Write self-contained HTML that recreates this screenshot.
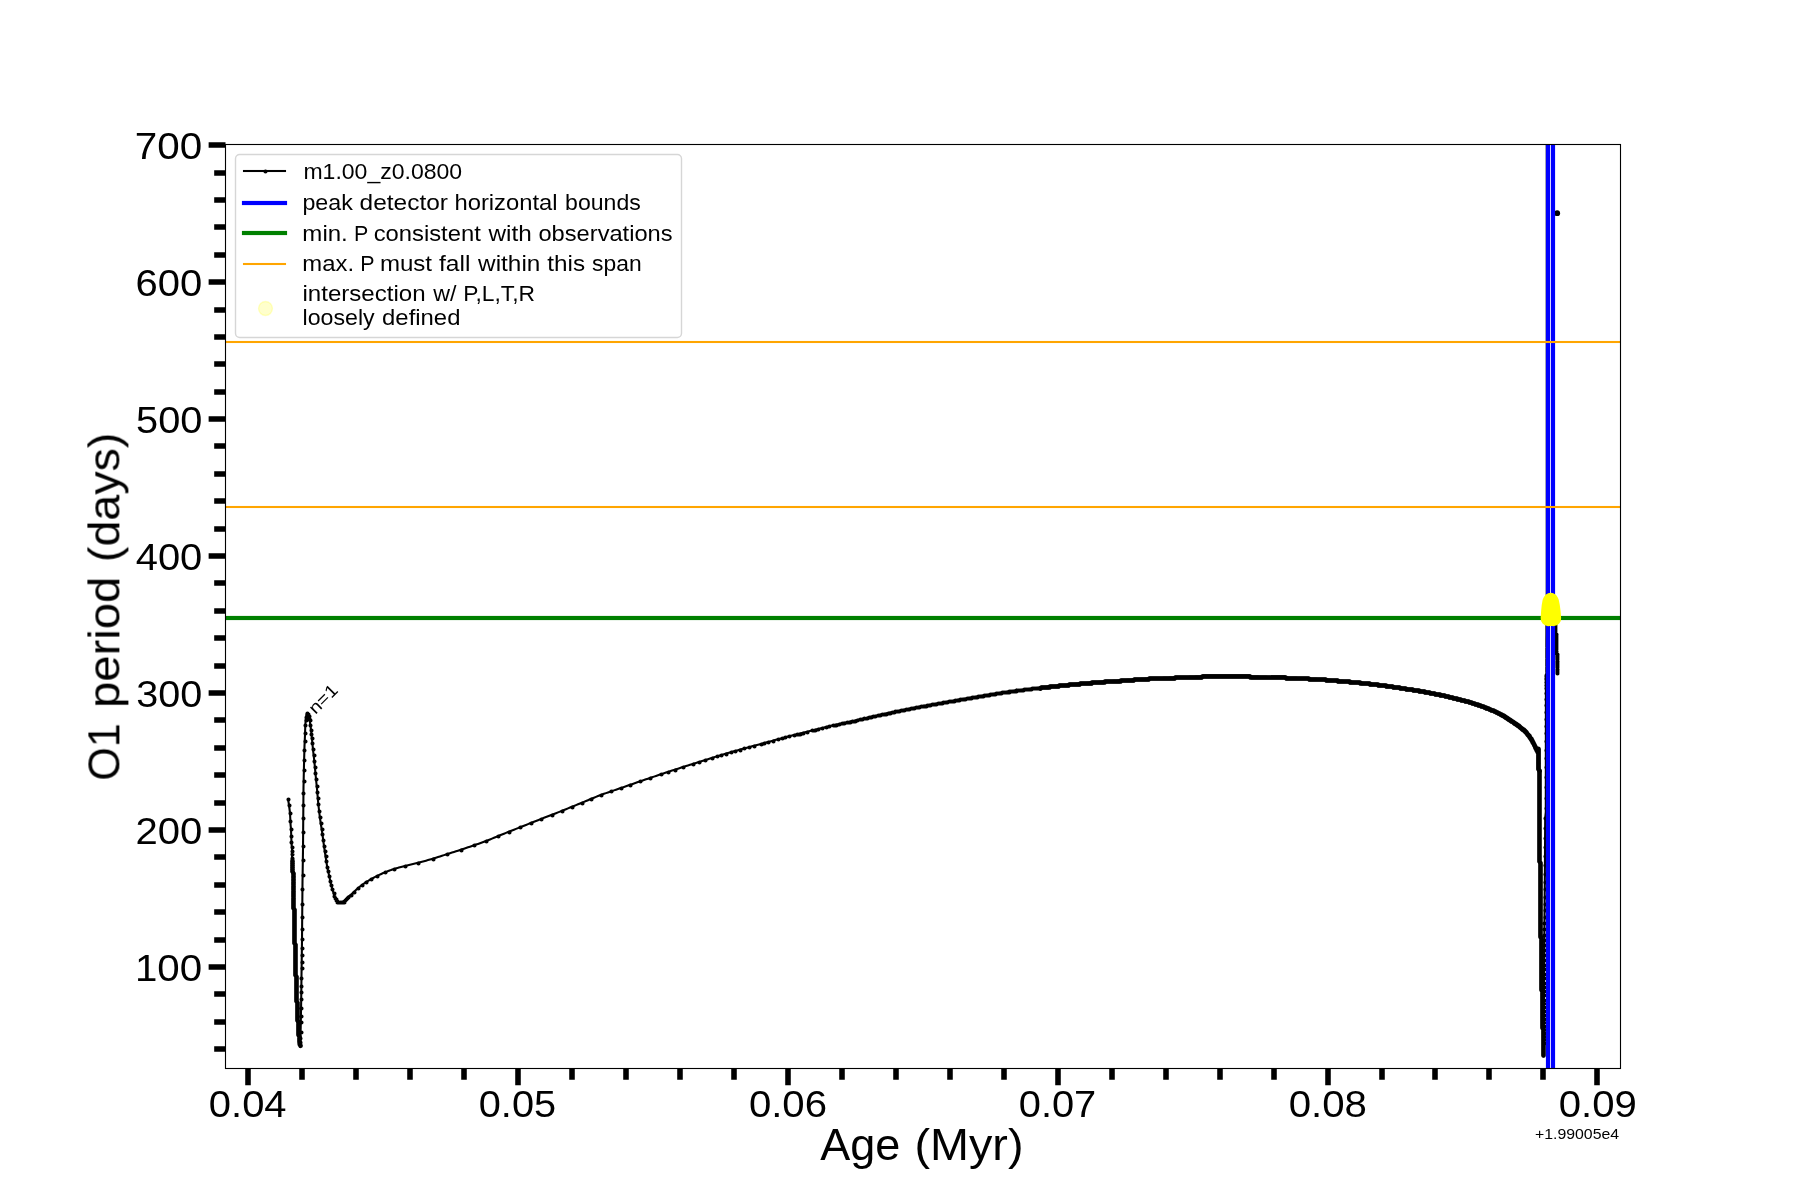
<!DOCTYPE html>
<html lang="en"><head><meta charset="utf-8"><title>O1 period vs age</title>
<style>html,body{margin:0;padding:0;background:#fff}body{width:1800px;height:1200px;overflow:hidden}svg{display:block}text{font-family:"Liberation Sans",sans-serif;fill:#000}</style></head><body>
<svg width="1800" height="1200" viewBox="0 0 1800 1200" role="img" aria-label="O1 period (days) versus age (Myr) for model m1.00_z0.0800">
<rect width="1800" height="1200" fill="#fff"/>
<defs><clipPath id="ax"><rect x="225" y="144" width="1395" height="924"/></clipPath></defs>
<!-- data area -->
<g id="plot" clip-path="url(#ax)">
<path d="M288 799 288.5 802 289 805 289.5 809 290 813 290.4 821 290.6 825 291 829 291.3 838 291.6 845 292 847.5 292 871 293 873 293 907.5 294 909.5 294 942.5 295 944.5 295 974.5 296 976.5 296 1000.5 297 1002.5 297 1020 298 1022 298 1034 299 1036 299 1041 299.8 1045.5 299.8 1045.5 300.3 1038 300.7 1028 301.2 1000 301.5 975 302 940 302.5 882 303 850 303.5 787 304 765 304.5 746 305 735 305.3 725 305.8 719 306.3 716 306.7 714 307 713.2 307 713.2 307.6 713.6 308.2 714.6 308.8 716 309.2 717.8 309.6 720 310.4 725 311.2 731.5 312.1 740.5 313.2 751.5 314.3 761 316 779 317.1 790 318.3 804 319.8 817 320.7 823 322.4 834 324 846 325.5 856 327.2 867 329.2 876 331 884.5 332.3 889 333.5 893 334.6 896 335.6 898.6 336.4 900.5 337 901.5 338.5 901.95 340.2 902.1 340.2 902.1 340.7 902.09 341.2 902.05 341.7 902 342.2 901.94 342.7 901.87 343.2 901.77 343.7 901.62 344.2 901.37 344.7 900.83 345.2 900.2 345.7 899.59 346.2 898.96 346.7 898.37 347.2 897.81 347.7 897.29 348.2 896.82 348.7 896.39 349.2 896 349.7 895.62 350.2 895.24 350.7 894.85 351.2 894.43 351.7 893.99 352.2 893.55 352.7 893.09 353.2 892.63 353.7 892.17 354.2 891.72 354.7 891.25 355.2 890.78 355.7 890.31 356.2 889.83 356.7 889.37 357.2 888.91 357.7 888.46 358.2 888.03 358.7 887.61 359.2 887.19 359.7 886.79 360.2 886.39 360.7 885.99 361.2 885.61 361.7 885.23 362.2 884.85 362.7 884.48 363.2 884.12 363.7 883.76 364.2 883.41 364.7 883.07 365.2 882.73 365.7 882.4 366.2 882.07 366.7 881.75 367.2 881.44 367.7 881.13 368.2 880.83 368.7 880.53 369.2 880.23 369.7 879.94 370.2 879.66 370.7 879.37 371.2 879.09 371.7 878.81 372.2 878.53 372.7 878.25 373.2 877.98 373.7 877.71 374.2 877.44 374.7 877.18 375.2 876.92 375.7 876.66 376.2 876.4 376.7 876.15 377.2 875.9 377.7 875.65 378.2 875.41 378.7 875.16 379.2 874.92 379.7 874.68 380.2 874.44 380.7 874.2 381.2 873.97 381.7 873.74 382.2 873.51 382.7 873.29 383.2 873.06 383.7 872.85 384.2 872.63 384.7 872.42 385.2 872.22 385.7 872.02 386.2 871.81 386.7 871.62 387.2 871.42 387.7 871.23 388.2 871.03 388.7 870.85 389.2 870.66 389.7 870.48 390.2 870.29 390.7 870.12 391.2 869.94 391.7 869.77 392.2 869.59 392.7 869.43 393.2 869.26 393.7 869.1 394.2 868.94 394.7 868.78 395.2 868.62 395.7 868.47 396.2 868.32 396.7 868.17 397.2 868.02 397.7 867.88 398.2 867.73 398.7 867.59 399.2 867.45 399.7 867.31 400 867.23 402 866.69 404 866.16 406 865.65 408 865.16 410 864.69 412 864.23 414 863.77 416 863.3 418 862.8 420 862.28 422 861.75 424 861.2 426 860.65 428 860.08 430 859.5 432 858.91 434 858.3 436 857.68 438 857.04 440 856.41 442 855.76 444 855.12 446 854.48 448 853.84 450 853.21 452 852.57 454 851.94 456 851.3 458 850.65 460 850 462 849.34 464 848.68 466 848.01 468 847.34 470 846.66 472 845.97 474 845.28 476 844.59 478 843.9 480 843.19 482 842.48 484 841.75 486 841 488 840.23 490 839.43 492 838.61 494 837.78 496 836.94 498 836.12 500 835.3 502 834.49 504 833.69 506 832.89 508 832.08 510 831.28 512 830.49 514 829.69 516 828.89 518 828.1 520 827.3 522 826.51 524 825.71 526 824.92 528 824.13 530 823.34 532 822.55 534 821.76 536 820.97 538 820.19 540 819.4 542 818.62 544 817.84 546 817.06 548 816.29 550 815.51 552 814.74 554 813.96 556 813.18 558 812.39 560 811.6 562 810.8 564 810 566 809.2 568 808.39 570 807.58 572 806.76 574 805.95 576 805.13 578 804.32 580 803.5 582 802.68 584 801.85 586 801.01 588 800.17 590 799.33 592 798.49 594 797.67 596 796.86 598 796.07 600 795.3 602 794.55 604 793.83 606 793.12 608 792.42 610 791.72 612 791.04 614 790.36 616 789.68 618 788.99 620 788.3 622 787.61 624 786.91 626 786.22 628 785.53 630 784.84 632 784.15 634 783.46 636 782.77 638 782.09 640 781.4 642 780.72 644 780.03 646 779.35 648 778.66 650 777.98 652 777.3 654 776.62 656 775.95 658 775.27 660 774.6 662 773.93 664 773.26 666 772.6 668 771.94 670 771.27 672 770.61 674 769.96 676 769.3 678 768.65 680 768 682 767.35 684 766.71 686 766.07 688 765.43 690 764.8 692 764.17 694 763.56 696 762.94 698 762.32 700 761.7 702 761.07 704 760.44 706 759.8 708 759.16 710 758.52 712 757.89 714 757.26 716 756.63 718 756.01 720 755.4 722 754.8 724 754.2 726 753.61 728 753.03 730 752.44 732 751.87 734 751.29 736 750.73 738 750.16 740 749.6 742 749.04 744 748.5 746 747.95 748 747.42 750 746.88 752 746.35 754 745.82 756 745.28 758 744.74 760 744.2 762 743.65 764 743.1 766 742.55 768 741.99 770 741.44 772 740.88 774 740.33 776 739.78 778 739.24 780 738.7 782 738.17 784 737.64 786 737.12 788 736.59 790 736.08 792 735.56 794 735.04 796 734.53 798 734.01 800 733.5 802 732.98 804 732.47 806 731.95 808 731.44 810 730.92 812 730.41 814 729.9 816 729.4 818 728.9 820 728.4 822 727.91 824 727.42 826 726.94 828 726.47 830 726 832 725.54 834 725.08 836 724.63 838 724.18 840 723.74 842 723.3 844 722.86 846 722.42 848 721.99 850 721.55 852 721.11 854 720.68 856 720.24 858 719.79 860 719.35 862 718.9 864 718.45 866 717.99 868 717.54 870 717.08 872 716.62 874 716.16 876 715.7 878 715.25 880 714.79 882 714.35 884 713.9 886 713.46 888 713.03 890 712.6 892 712.18 894 711.76 896 711.34 898 710.93 900 710.52 902 710.12 904 709.71 906 709.31 908 708.92 910 708.52 912 708.13 914 707.74 916 707.36 918 706.98 920 706.6 922 706.23 924 705.85 926 705.49 928 705.12 930 704.76 932 704.41 934 704.05 936 703.7 938 703.35 940 703 942 702.65 944 702.3 946 701.95 948 701.6 950 701.25 952 700.9 954 700.55 956 700.2 958 699.85 960 699.5 962 699.16 964 698.81 966 698.46 968 698.12 970 697.78 972 697.44 974 697.1 976 696.76 978 696.43 980 696.1 982 695.77 984 695.44 986 695.11 988 694.78 990 694.45 992 694.12 994 693.8 996 693.48 998 693.16 1000 692.85 1002 692.54 1004 692.23 1006 691.93 1008 691.64 1010 691.35 1012 691.07 1014 690.79 1016 690.52 1018 690.24 1020 689.98 1022 689.71 1024 689.45 1026 689.19 1028 688.94 1030 688.69 1032 688.45 1034 688.2 1036 687.97 1038 687.73 1040 687.5 1042 687.27 1044 687.05 1046 686.83 1048 686.61 1050 686.4 1052 686.18 1054 685.98 1056 685.77 1058 685.57 1060 685.37 1062 685.17 1064 684.97 1066 684.78 1068 684.59 1070 684.4 1072 684.21 1074 684.03 1076 683.84 1078 683.66 1080 683.48 1082 683.29 1084 683.12 1086 682.94 1088 682.77 1090 682.6 1092 682.43 1094 682.26 1096 682.1 1098 681.95 1100 681.79 1102 681.64 1104 681.5 1106 681.36 1108 681.24 1110 681.11 1112 680.99 1114 680.88 1116 680.76 1118 680.63 1120 680.5 1122 680.36 1124 680.21 1126 680.06 1128 679.91 1130 679.76 1132 679.61 1134 679.46 1136 679.32 1138 679.17 1140 679.02 1142 678.87 1144 678.74 1146 678.61 1148 678.5 1150 678.4 1152 678.31 1154 678.22 1156 678.14 1158 678.07 1160 677.99 1162 677.92 1164 677.85 1166 677.78 1168 677.71 1170 677.64 1172 677.57 1174 677.5 1176 677.42 1178 677.34 1180 677.26 1182 677.18 1184 677.09 1186 677.01 1188 676.93 1190 676.85 1192 676.77 1194 676.7 1196 676.64 1198 676.58 1200 676.53 1202 676.49 1204 676.46 1206 676.42 1208 676.39 1210 676.35 1212 676.32 1214 676.29 1216 676.27 1218 676.24 1220 676.23 1222 676.21 1224 676.2 1226 676.2 1228 676.2 1230 676.21 1232 676.23 1234 676.25 1236 676.27 1238 676.3 1240 676.33 1242 676.36 1244 676.4 1246 676.43 1248 676.47 1250 676.5 1252 676.54 1254 676.57 1256 676.62 1258 676.66 1260 676.71 1262 676.76 1264 676.82 1266 676.87 1268 676.93 1270 676.99 1272 677.06 1274 677.12 1276 677.18 1278 677.25 1280 677.32 1282 677.39 1284 677.46 1286 677.52 1288 677.6 1290 677.67 1292 677.75 1294 677.83 1296 677.91 1298 678 1300 678.09 1302 678.18 1304 678.27 1306 678.37 1308 678.47 1310 678.56 1312 678.67 1314 678.77 1316 678.88 1318 678.99 1320 679.11 1322 679.23 1324 679.36 1326 679.5 1328 679.65 1330 679.83 1332 680.01 1334 680.2 1336 680.39 1338 680.56 1340 680.73 1342 680.89 1344 681.05 1346 681.22 1348 681.39 1350 681.56 1352 681.74 1354 681.92 1356 682.11 1358 682.3 1360 682.5 1362 682.7 1364 682.92 1366 683.13 1368 683.36 1370 683.58 1372 683.8 1374 684.03 1376 684.26 1378 684.5 1380 684.74 1382 684.98 1384 685.24 1386 685.5 1388 685.79 1390 686.09 1392 686.39 1394 686.7 1396 687 1398 687.3 1400 687.61 1402 687.9 1404 688.2 1406 688.5 1408 688.79 1410 689.09 1412 689.39 1414 689.71 1416 690.04 1418 690.38 1420 690.73 1422 691.09 1424 691.45 1426 691.82 1428 692.2 1430 692.58 1432 692.97 1434 693.36 1436 693.77 1438 694.18 1440 694.6 1442 695.03 1444 695.48 1446 695.94 1448 696.4 1450 696.88 1452 697.37 1454 697.85 1456 698.35 1458 698.84 1460 699.33 1462 699.83 1464 700.34 1466 700.87 1468 701.42 1470 702 1472 702.61 1474 703.26 1476 703.94 1478 704.64 1480 705.35 1482 706.06 1484 706.78 1486 707.52 1488 708.29 1490 709.1 1492 709.95 1494 710.85 1496 711.78 1498 712.77 1500 713.8 1500.5 714.07 1501 714.34 1501.5 714.62 1502 714.9 1502.5 715.19 1503 715.48 1503.5 715.78 1504 716.08 1504.5 716.39 1505 716.69 1505.5 717 1506 717.32 1506.5 717.63 1507 717.95 1507.5 718.27 1508 718.6 1508.5 718.92 1509 719.25 1509.5 719.57 1510 719.9 1510.5 720.23 1511 720.56 1511.5 720.89 1512 721.22 1512.5 721.56 1513 721.9 1513.5 722.24 1514 722.58 1514.5 722.93 1515 723.28 1515.5 723.63 1516 723.99 1516.5 724.35 1517 724.71 1517.5 725.08 1518 725.45 1518.5 725.83 1519 726.22 1519.5 726.61 1520 727 1520.5 727.4 1521 727.8 1521.5 728.21 1522 728.63 1522.5 729.06 1523 729.5 1523.5 729.95 1524 730.42 1524.5 730.9 1525 731.4 1525.5 731.92 1526 732.45 1526.5 733 1527 733.57 1527.5 734.16 1528 734.77 1528.5 735.41 1529 736.08 1529.5 736.77 1530 737.5 1530.5 738.29 1531 739.17 1531.5 740.1 1532 741.06 1532.5 742 1533 742.93 1533.5 743.86 1534 744.8 1534.5 745.78 1535 746.8 1535.5 747.92 1536 749.1 1536.5 750.2 1537 751.15 1537.2 751.5 1537.2 751.5 1538.2 748.5 1538.2 768.5 1539.1 770.5 1539.2 861 1540 863 1540 936 1541 938 1541 989 1541.9 991 1542 1027 1542.8 1029 1543 1055 1543.1 1055 1543.6 1040 1544 985 1544.4 930 1544.9 870 1545.2 818 1545.8 812 1545.9 677 1546.7 673 1546.9 640 1547.3 622 1548.5 607 1550.6 600.5 1552.4 605 1554.2 616 1555 626 1556 640 1556.7 658 1557 674" fill="none" stroke="#000" stroke-width="2.08" stroke-linejoin="round" stroke-linecap="butt"/>
<path d="M288.5 799.5h0M289.5 805.5h0M290.5 813.5h0M290.5 821.5h0M291.5 829.5h0M291.5 836.5h0M291.5 842.5h0M292.5 847.5h0M292.5 851.5h0M292.5 854.5h0M292.5 858.5h0M292.5 861.5h0M292.5 863.5h0M292.5 865.5h0M292.5 867.5h0M292.5 869.5h0M292.5 871.5h0M293.5 873.5h0M293.5 874.5h0M293.5 876.5h0M293.5 877.5h0M293.5 879.5h0M293.5 880.5h0M293.5 882.5h0M293.5 883.5h0M293.5 884.5h0M293.5 886.5h0M293.5 887.5h0M293.5 888.5h0M293.5 889.5h0M293.5 891.5h0M293.5 892.5h0M293.5 893.5h0M293.5 894.5h0M293.5 895.5h0M293.5 896.5h0M293.5 898.5h0M293.5 899.5h0M293.5 900.5h0M293.5 901.5h0M293.5 902.5h0M293.5 903.5h0M293.5 904.5h0M293.5 905.5h0M293.5 906.5h0M293.5 907.5h0M293.5 908.5h0M294.5 909.5h0M294.5 910.5h0M294.5 911.5h0M294.5 912.5h0M294.5 913.5h0M294.5 914.5h0M294.5 915.5h0M294.5 916.5h0M294.5 917.5h0M294.5 918.5h0M294.5 919.5h0M294.5 920.5h0M294.5 921.5h0M294.5 922.5h0M294.5 923.5h0M294.5 924.5h0M294.5 925.5h0M294.5 926.5h0M294.5 927.5h0M294.5 928.5h0M294.5 929.5h0M294.5 930.5h0M294.5 931.5h0M294.5 932.5h0M294.5 933.5h0M294.5 934.5h0M294.5 935.5h0M294.5 936.5h0M294.5 937.5h0M294.5 938.5h0M294.5 939.5h0M294.5 940.5h0M294.5 941.5h0M294.5 942.5h0M294.5 943.5h0M295.5 944.5h0M295.5 945.5h0M295.5 946.5h0M295.5 947.5h0M295.5 948.5h0M295.5 949.5h0M295.5 950.5h0M295.5 951.5h0M295.5 952.5h0M295.5 953.5h0M295.5 954.5h0M295.5 955.5h0M295.5 956.5h0M295.5 957.5h0M295.5 958.5h0M295.5 959.5h0M295.5 960.5h0M295.5 961.5h0M295.5 962.5h0M295.5 963.5h0M295.5 964.5h0M295.5 965.5h0M295.5 966.5h0M295.5 967.5h0M295.5 968.5h0M295.5 969.5h0M295.5 970.5h0M295.5 971.5h0M295.5 972.5h0M295.5 973.5h0M295.5 974.5h0M295.5 975.5h0M296.5 976.5h0M296.5 977.5h0M296.5 978.5h0M296.5 979.5h0M296.5 980.5h0M296.5 981.5h0M296.5 982.5h0M296.5 983.5h0M296.5 984.5h0M296.5 985.5h0M296.5 986.5h0M296.5 987.5h0M296.5 988.5h0M296.5 989.5h0M296.5 990.5h0M296.5 991.5h0M296.5 992.5h0M296.5 993.5h0M296.5 994.5h0M296.5 995.5h0M296.5 996.5h0M296.5 997.5h0M296.5 998.5h0M296.5 999.5h0M296.5 1000.5h0M296.5 1001.5h0M297.5 1002.5h0M297.5 1003.5h0M297.5 1004.5h0M297.5 1005.5h0M297.5 1006.5h0M297.5 1007.5h0M297.5 1008.5h0M297.5 1009.5h0M297.5 1010.5h0M297.5 1011.5h0M297.5 1012.5h0M297.5 1013.5h0M297.5 1014.5h0M297.5 1015.5h0M297.5 1016.5h0M297.5 1017.5h0M297.5 1018.5h0M297.5 1019.5h0M297.5 1020.5h0M298.5 1021.5h0M298.5 1022.5h0M298.5 1023.5h0M298.5 1024.5h0M298.5 1025.5h0M298.5 1026.5h0M298.5 1027.5h0M298.5 1028.5h0M298.5 1029.5h0M298.5 1030.5h0M298.5 1031.5h0M298.5 1032.5h0M298.5 1033.5h0M298.5 1034.5h0M298.5 1035.5h0M299.5 1036.5h0M299.5 1037.5h0M299.5 1038.5h0M299.5 1039.5h0M299.5 1040.5h0M299.5 1041.5h0M299.5 1042.5h0M299.5 1043.5h0M299.5 1044.5h0M300.5 1045.5h0M300.5 1042.5h0M300.5 1038.5h0M301.5 1032.5h0M301.5 1022.5h0M301.5 1016.5h0M301.5 1008.5h0M301.5 999.5h0M301.5 992.5h0M301.5 986.5h0M301.5 978.5h0M302.5 968.5h0M302.5 962.5h0M302.5 955.5h0M302.5 948.5h0M302.5 939.5h0M302.5 929.5h0M302.5 917.5h0M302.5 904.5h0M302.5 889.5h0M303.5 875.5h0M303.5 860.5h0M303.5 846.5h0M303.5 832.5h0M303.5 818.5h0M303.5 805.5h0M303.5 793.5h0M304.5 781.5h0M304.5 770.5h0M304.5 760.5h0M304.5 750.5h0M305.5 741.5h0M305.5 733.5h0M305.5 725.5h0M306.5 720.5h0M306.5 717.5h0M307.5 715.5h0M307.5 714.5h0M307.5 713.5h0M308.5 714.5h0M308.5 715.5h0M309.5 716.5h0M309.5 718.5h0M310.5 720.5h0M310.5 725.5h0M311.5 730.5h0M311.5 734.5h0M312.5 738.5h0M312.5 743.5h0M313.5 749.5h0M314.5 755.5h0M314.5 761.5h0M315.5 767.5h0M315.5 773.5h0M316.5 779.5h0M317.5 786.5h0M317.5 792.5h0M318.5 798.5h0M318.5 804.5h0M319.5 811.5h0M320.5 817.5h0M321.5 823.5h0M322.5 829.5h0M322.5 834.5h0M323.5 840.5h0M324.5 846.5h0M325.5 851.5h0M326.5 856.5h0M326.5 861.5h0M327.5 867.5h0M328.5 871.5h0M329.5 876.5h0M330.5 881.5h0M331.5 885.5h0M332.5 889.5h0M334.5 893.5h0M334.5 896.5h0M335.5 898.5h0M336.5 899.5h0M336.5 900.5h0M337.5 901.5h0M337.5 902.5h0M338.5 902.5h0M340.5 902.5h0M341.5 902.5h0M342.5 902.5h0M343.5 902.5h0M344.5 902.5h0M344.5 901.5h0M345.5 900.5h0M346.5 899.5h0M347.5 898.5h0M348.5 897.5h0M351.5 895.5h0M354.5 892.5h0M358.5 888.5h0M362.5 885.5h0M366.5 882.5h0M371.5 879.5h0M377.5 876.5h0M385.5 872.5h0M394.5 869.5h0M405.5 866.5h0M418.5 863.5h0M433.5 859.5h0M447.5 854.5h0M461.5 850.5h0M474.5 845.5h0M486.5 841.5h0M498.5 836.5h0M509.5 832.5h0M520.5 827.5h0M531.5 823.5h0M541.5 819.5h0M552.5 815.5h0M562.5 811.5h0M572.5 807.5h0M582.5 803.5h0M591.5 799.5h0M601.5 795.5h0M611.5 791.5h0M621.5 788.5h0M630.5 785.5h0M640.5 781.5h0M650.5 778.5h0M661.5 774.5h0M668.5 772.5h0M675.5 770.5h0M683.5 767.5h0M693.5 764.5h0M699.5 762.5h0M705.5 760.5h0M712.5 758.5h0M717.5 756.5h0M721.5 755.5h0M726.5 754.5h0M731.5 752.5h0M735.5 751.5h0M740.5 750.5h0M744.5 748.5h0M749.5 747.5h0M754.5 746.5h0M761.5 744.5h0M764.5 743.5h0M768.5 742.5h0M773.5 741.5h0M778.5 739.5h0M782.5 738.5h0M785.5 737.5h0M789.5 736.5h0M794.5 735.5h0M797.5 734.5h0M800.5 734.5h0M803.5 733.5h0M807.5 732.5h0M812.5 730.5h0M815.5 730.5h0M818.5 729.5h0M822.5 728.5h0M826.5 727.5h0M829.5 726.5h0M833.5 725.5h0M836.5 725.5h0M839.5 724.5h0M842.5 723.5h0M844.5 723.5h0M847.5 722.5h0M850.5 722.5h0M852.5 721.5h0M855.5 721.5h0M857.5 720.5h0M860.5 719.5h0M862.5 719.5h0M864.5 718.5h0M867.5 718.5h0M869.5 717.5h0M871.5 717.5h0M873.5 716.5h0M875.5 716.5h0M878.5 715.5h0M880.5 715.5h0M882.5 714.5h0M884.5 714.5h0M886.5 714.5h0M888.5 713.5h0M890.5 713.5h0M892.5 712.5h0M894.5 712.5h0M895.5 711.5h0M897.5 711.5h0M899.5 711.5h0M901.5 710.5h0M903.5 710.5h0M904.5 710.5h0M906.5 709.5h0M908.5 709.5h0M909.5 709.5h0M911.5 708.5h0M913.5 708.5h0M914.5 708.5h0M916.5 707.5h0M918.5 707.5h0M919.5 707.5h0M921.5 706.5h0M923.5 706.5h0M924.5 706.5h0M926.5 706.5h0M927.5 705.5h0M929.5 705.5h0M930.5 705.5h0M932.5 704.5h0M933.5 704.5h0M935.5 704.5h0M936.5 704.5h0M938.5 703.5h0M939.5 703.5h0M941.5 703.5h0M942.5 703.5h0M943.5 702.5h0M945.5 702.5h0M946.5 702.5h0M947.5 702.5h0M949.5 701.5h0M950.5 701.5h0M951.5 701.5h0M953.5 701.5h0M954.5 701.5h0M955.5 700.5h0M957.5 700.5h0M958.5 700.5h0M959.5 700.5h0M960.5 699.5h0M962.5 699.5h0M963.5 699.5h0M964.5 699.5h0M965.5 699.5h0M967.5 698.5h0M968.5 698.5h0M969.5 698.5h0M970.5 698.5h0M971.5 698.5h0M972.5 697.5h0M973.5 697.5h0M975.5 697.5h0M976.5 697.5h0M977.5 697.5h0M978.5 696.5h0M979.5 696.5h0M980.5 696.5h0M981.5 696.5h0M982.5 696.5h0M983.5 696.5h0M984.5 695.5h0M985.5 695.5h0M986.5 695.5h0M987.5 695.5h0M988.5 695.5h0M989.5 695.5h0M990.5 694.5h0M991.5 694.5h0M992.5 694.5h0M993.5 694.5h0M994.5 694.5h0M995.5 694.5h0M996.5 693.5h0M997.5 693.5h0M998.5 693.5h0M999.5 693.5h0M1000.5 693.5h0M1001.5 693.5h0M1002.5 692.5h0M1003.5 692.5h0M1004.5 692.5h0M1005.5 692.5h0M1006.5 692.5h0M1007.5 692.5h0M1008.5 692.5h0M1009.5 692.5h0M1009.5 691.5h0M1010.5 691.5h0M1011.5 691.5h0M1012.5 691.5h0M1013.5 691.5h0M1014.5 691.5h0M1015.5 691.5h0M1016.5 691.5h0M1016.5 690.5h0M1017.5 690.5h0M1018.5 690.5h0M1019.5 690.5h0M1020.5 690.5h0M1021.5 690.5h0M1022.5 690.5h0M1023.5 690.5h0M1024.5 689.5h0M1025.5 689.5h0M1026.5 689.5h0M1027.5 689.5h0M1028.5 689.5h0M1029.5 689.5h0M1030.5 689.5h0M1031.5 689.5h0M1032.5 688.5h0M1033.5 688.5h0M1034.5 688.5h0M1035.5 688.5h0M1036.5 688.5h0M1037.5 688.5h0M1038.5 688.5h0M1039.5 688.5h0M1040.5 688.5h0M1041.5 687.5h0M1042.5 687.5h0M1043.5 687.5h0M1044.5 687.5h0M1045.5 687.5h0M1046.5 687.5h0M1047.5 687.5h0M1048.5 687.5h0M1049.5 686.5h0M1050.5 686.5h0M1051.5 686.5h0M1052.5 686.5h0M1053.5 686.5h0M1054.5 686.5h0M1055.5 686.5h0M1056.5 686.5h0M1057.5 686.5h0M1058.5 686.5h0M1059.5 685.5h0M1060.5 685.5h0M1061.5 685.5h0M1062.5 685.5h0M1063.5 685.5h0M1064.5 685.5h0M1065.5 685.5h0M1066.5 685.5h0M1067.5 685.5h0M1068.5 685.5h0M1069.5 684.5h0M1070.5 684.5h0M1071.5 684.5h0M1072.5 684.5h0M1073.5 684.5h0M1074.5 684.5h0M1075.5 684.5h0M1076.5 684.5h0M1077.5 684.5h0M1078.5 684.5h0M1079.5 684.5h0M1080.5 683.5h0M1081.5 683.5h0M1082.5 683.5h0M1083.5 683.5h0M1084.5 683.5h0M1085.5 683.5h0M1086.5 683.5h0M1087.5 683.5h0M1088.5 683.5h0M1089.5 683.5h0M1090.5 683.5h0M1091.5 683.5h0M1091.5 682.5h0M1092.5 682.5h0M1093.5 682.5h0M1094.5 682.5h0M1095.5 682.5h0M1096.5 682.5h0M1097.5 682.5h0M1098.5 682.5h0M1099.5 682.5h0M1100.5 682.5h0M1101.5 682.5h0M1102.5 682.5h0M1103.5 682.5h0M1104.5 681.5h0M1105.5 681.5h0M1106.5 681.5h0M1107.5 681.5h0M1108.5 681.5h0M1109.5 681.5h0M1110.5 681.5h0M1111.5 681.5h0M1112.5 681.5h0M1113.5 681.5h0M1114.5 681.5h0M1115.5 681.5h0M1116.5 681.5h0M1117.5 681.5h0M1118.5 681.5h0M1119.5 681.5h0M1120.5 680.5h0M1121.5 680.5h0M1122.5 680.5h0M1123.5 680.5h0M1124.5 680.5h0M1125.5 680.5h0M1126.5 680.5h0M1127.5 680.5h0M1128.5 680.5h0M1129.5 680.5h0M1130.5 680.5h0M1131.5 680.5h0M1132.5 680.5h0M1133.5 680.5h0M1134.5 679.5h0M1135.5 679.5h0M1136.5 679.5h0M1137.5 679.5h0M1138.5 679.5h0M1139.5 679.5h0M1140.5 679.5h0M1141.5 679.5h0M1142.5 679.5h0M1143.5 679.5h0M1144.5 679.5h0M1145.5 679.5h0M1146.5 679.5h0M1147.5 679.5h0M1148.5 679.5h0M1149.5 678.5h0M1150.5 678.5h0M1151.5 678.5h0M1152.5 678.5h0M1153.5 678.5h0M1154.5 678.5h0M1155.5 678.5h0M1156.5 678.5h0M1157.5 678.5h0M1158.5 678.5h0M1159.5 678.5h0M1160.5 678.5h0M1161.5 678.5h0M1162.5 678.5h0M1163.5 678.5h0M1164.5 678.5h0M1165.5 678.5h0M1166.5 678.5h0M1167.5 678.5h0M1168.5 678.5h0M1169.5 678.5h0M1170.5 678.5h0M1171.5 678.5h0M1172.5 678.5h0M1173.5 678.5h0M1174.5 678.5h0M1175.5 677.5h0M1176.5 677.5h0M1177.5 677.5h0M1178.5 677.5h0M1179.5 677.5h0M1180.5 677.5h0M1181.5 677.5h0M1182.5 677.5h0M1183.5 677.5h0M1184.5 677.5h0M1185.5 677.5h0M1186.5 677.5h0M1187.5 677.5h0M1188.5 677.5h0M1189.5 677.5h0M1190.5 677.5h0M1191.5 677.5h0M1192.5 677.5h0M1193.5 677.5h0M1194.5 677.5h0M1195.5 677.5h0M1196.5 677.5h0M1197.5 677.5h0M1198.5 677.5h0M1199.5 677.5h0M1200.5 677.5h0M1201.5 677.5h0M1202.5 676.5h0M1203.5 676.5h0M1204.5 676.5h0M1205.5 676.5h0M1206.5 676.5h0M1207.5 676.5h0M1208.5 676.5h0M1209.5 676.5h0M1210.5 676.5h0M1211.5 676.5h0M1212.5 676.5h0M1213.5 676.5h0M1214.5 676.5h0M1215.5 676.5h0M1216.5 676.5h0M1217.5 676.5h0M1218.5 676.5h0M1219.5 676.5h0M1220.5 676.5h0M1221.5 676.5h0M1222.5 676.5h0M1223.5 676.5h0M1224.5 676.5h0M1225.5 676.5h0M1226.5 676.5h0M1227.5 676.5h0M1228.5 676.5h0M1229.5 676.5h0M1230.5 676.5h0M1231.5 676.5h0M1232.5 676.5h0M1233.5 676.5h0M1234.5 676.5h0M1235.5 676.5h0M1236.5 676.5h0M1237.5 676.5h0M1238.5 676.5h0M1239.5 676.5h0M1240.5 676.5h0M1241.5 676.5h0M1242.5 676.5h0M1243.5 676.5h0M1244.5 676.5h0M1245.5 676.5h0M1246.5 676.5h0M1247.5 676.5h0M1248.5 676.5h0M1249.5 676.5h0M1250.5 676.5h0M1251.5 677.5h0M1252.5 677.5h0M1253.5 677.5h0M1254.5 677.5h0M1255.5 677.5h0M1256.5 677.5h0M1257.5 677.5h0M1258.5 677.5h0M1259.5 677.5h0M1260.5 677.5h0M1261.5 677.5h0M1262.5 677.5h0M1263.5 677.5h0M1264.5 677.5h0M1265.5 677.5h0M1266.5 677.5h0M1267.5 677.5h0M1268.5 677.5h0M1269.5 677.5h0M1270.5 677.5h0M1271.5 677.5h0M1272.5 677.5h0M1273.5 677.5h0M1274.5 677.5h0M1275.5 677.5h0M1276.5 677.5h0M1277.5 677.5h0M1278.5 677.5h0M1279.5 677.5h0M1280.5 677.5h0M1281.5 677.5h0M1282.5 677.5h0M1283.5 677.5h0M1284.5 677.5h0M1285.5 677.5h0M1286.5 678.5h0M1287.5 678.5h0M1288.5 678.5h0M1289.5 678.5h0M1290.5 678.5h0M1291.5 678.5h0M1292.5 678.5h0M1293.5 678.5h0M1294.5 678.5h0M1295.5 678.5h0M1296.5 678.5h0M1297.5 678.5h0M1298.5 678.5h0M1299.5 678.5h0M1300.5 678.5h0M1301.5 678.5h0M1302.5 678.5h0M1303.5 678.5h0M1304.5 678.5h0M1305.5 678.5h0M1306.5 678.5h0M1307.5 678.5h0M1308.5 678.5h0M1309.5 679.5h0M1310.5 679.5h0M1311.5 679.5h0M1312.5 679.5h0M1313.5 679.5h0M1314.5 679.5h0M1315.5 679.5h0M1316.5 679.5h0M1317.5 679.5h0M1318.5 679.5h0M1319.5 679.5h0M1320.5 679.5h0M1321.5 679.5h0M1322.5 679.5h0M1323.5 679.5h0M1324.5 679.5h0M1325.5 679.5h0M1326.5 680.5h0M1327.5 680.5h0M1328.5 680.5h0M1329.5 680.5h0M1330.5 680.5h0M1331.5 680.5h0M1332.5 680.5h0M1333.5 680.5h0M1334.5 680.5h0M1335.5 680.5h0M1336.5 680.5h0M1337.5 680.5h0M1337.5 681.5h0M1338.5 681.5h0M1339.5 681.5h0M1340.5 681.5h0M1341.5 681.5h0M1342.5 681.5h0M1343.5 681.5h0M1344.5 681.5h0M1345.5 681.5h0M1346.5 681.5h0M1347.5 681.5h0M1348.5 681.5h0M1349.5 681.5h0M1349.5 682.5h0M1350.5 682.5h0M1351.5 682.5h0M1352.5 682.5h0M1353.5 682.5h0M1354.5 682.5h0M1355.5 682.5h0M1356.5 682.5h0M1357.5 682.5h0M1358.5 682.5h0M1359.5 682.5h0M1360.5 682.5h0M1361.5 683.5h0M1362.5 683.5h0M1363.5 683.5h0M1364.5 683.5h0M1365.5 683.5h0M1366.5 683.5h0M1367.5 683.5h0M1368.5 683.5h0M1369.5 683.5h0M1369.5 684.5h0M1370.5 684.5h0M1371.5 684.5h0M1372.5 684.5h0M1373.5 684.5h0M1374.5 684.5h0M1375.5 684.5h0M1376.5 684.5h0M1377.5 684.5h0M1378.5 684.5h0M1378.5 685.5h0M1379.5 685.5h0M1380.5 685.5h0M1381.5 685.5h0M1382.5 685.5h0M1383.5 685.5h0M1384.5 685.5h0M1385.5 685.5h0M1386.5 685.5h0M1386.5 686.5h0M1387.5 686.5h0M1388.5 686.5h0M1389.5 686.5h0M1390.5 686.5h0M1391.5 686.5h0M1392.5 686.5h0M1393.5 687.5h0M1394.5 687.5h0M1395.5 687.5h0M1396.5 687.5h0M1397.5 687.5h0M1398.5 687.5h0M1399.5 687.5h0M1400.5 688.5h0M1401.5 688.5h0M1402.5 688.5h0M1403.5 688.5h0M1404.5 688.5h0M1405.5 688.5h0M1406.5 689.5h0M1407.5 689.5h0M1408.5 689.5h0M1409.5 689.5h0M1410.5 689.5h0M1411.5 689.5h0M1412.5 689.5h0M1413.5 690.5h0M1414.5 690.5h0M1415.5 690.5h0M1416.5 690.5h0M1417.5 690.5h0M1418.5 690.5h0M1419.5 690.5h0M1419.5 691.5h0M1420.5 691.5h0M1421.5 691.5h0M1422.5 691.5h0M1423.5 691.5h0M1424.5 691.5h0M1424.5 692.5h0M1425.5 692.5h0M1426.5 692.5h0M1427.5 692.5h0M1428.5 692.5h0M1429.5 692.5h0M1430.5 693.5h0M1431.5 693.5h0M1432.5 693.5h0M1433.5 693.5h0M1434.5 693.5h0M1435.5 694.5h0M1436.5 694.5h0M1437.5 694.5h0M1438.5 694.5h0M1439.5 694.5h0M1440.5 694.5h0M1440.5 695.5h0M1441.5 695.5h0M1442.5 695.5h0M1443.5 695.5h0M1444.5 695.5h0M1445.5 696.5h0M1446.5 696.5h0M1447.5 696.5h0M1448.5 696.5h0M1449.5 697.5h0M1450.5 697.5h0M1451.5 697.5h0M1452.5 697.5h0M1453.5 698.5h0M1454.5 698.5h0M1455.5 698.5h0M1456.5 698.5h0M1457.5 698.5h0M1457.5 699.5h0M1458.5 699.5h0M1459.5 699.5h0M1460.5 699.5h0M1461.5 700.5h0M1462.5 700.5h0M1463.5 700.5h0M1464.5 700.5h0M1465.5 701.5h0M1466.5 701.5h0M1467.5 701.5h0M1468.5 701.5h0M1469.5 702.5h0M1470.5 702.5h0M1471.5 702.5h0M1472.5 703.5h0M1473.5 703.5h0M1474.5 703.5h0M1475.5 704.5h0M1476.5 704.5h0M1477.5 704.5h0M1478.5 704.5h0M1478.5 705.5h0M1479.5 705.5h0M1480.5 705.5h0M1481.5 706.5h0M1482.5 706.5h0M1483.5 706.5h0M1484.5 707.5h0M1485.5 707.5h0M1486.5 707.5h0M1486.5 708.5h0M1487.5 708.5h0M1488.5 708.5h0M1489.5 709.5h0M1490.5 709.5h0M1491.5 710.5h0M1492.5 710.5h0M1493.5 710.5h0M1494.5 711.5h0M1495.5 711.5h0M1496.5 712.5h0M1497.5 712.5h0M1498.5 713.5h0M1499.5 713.5h0M1500.5 714.5h0M1501.5 714.5h0M1501.5 715.5h0M1502.5 715.5h0M1503.5 715.5h0M1503.5 716.5h0M1504.5 716.5h0M1505.5 716.5h0M1505.5 717.5h0M1506.5 717.5h0M1506.5 718.5h0M1507.5 718.5h0M1508.5 718.5h0M1508.5 719.5h0M1509.5 719.5h0M1509.5 720.5h0M1510.5 720.5h0M1511.5 720.5h0M1511.5 721.5h0M1512.5 721.5h0M1513.5 722.5h0M1514.5 722.5h0M1514.5 723.5h0M1515.5 723.5h0M1515.5 724.5h0M1516.5 724.5h0M1517.5 724.5h0M1517.5 725.5h0M1518.5 725.5h0M1518.5 726.5h0M1519.5 726.5h0M1519.5 727.5h0M1520.5 727.5h0M1521.5 728.5h0M1522.5 728.5h0M1522.5 729.5h0M1523.5 729.5h0M1523.5 730.5h0M1524.5 730.5h0M1524.5 731.5h0M1525.5 731.5h0M1525.5 732.5h0M1526.5 732.5h0M1526.5 733.5h0M1527.5 733.5h0M1527.5 734.5h0M1528.5 734.5h0M1528.5 735.5h0M1529.5 735.5h0M1529.5 736.5h0M1529.5 737.5h0M1530.5 737.5h0M1530.5 738.5h0M1531.5 738.5h0M1531.5 739.5h0M1531.5 740.5h0M1532.5 740.5h0M1532.5 741.5h0M1532.5 742.5h0M1533.5 742.5h0M1533.5 743.5h0M1534.5 744.5h0M1534.5 745.5h0M1535.5 746.5h0M1535.5 747.5h0M1535.5 748.5h0M1536.5 749.5h0M1536.5 750.5h0M1537.5 751.5h0M1537.5 752.5h0M1538.5 750.5h0M1538.5 749.5h0M1538.5 751.5h0M1538.5 752.5h0M1538.5 753.5h0M1538.5 754.5h0M1538.5 755.5h0M1538.5 756.5h0M1538.5 757.5h0M1538.5 758.5h0M1538.5 759.5h0M1538.5 760.5h0M1538.5 761.5h0M1538.5 762.5h0M1538.5 763.5h0M1538.5 764.5h0M1538.5 765.5h0M1538.5 766.5h0M1538.5 767.5h0M1538.5 768.5h0M1538.5 769.5h0M1539.5 770.5h0M1539.5 771.5h0M1539.5 772.5h0M1539.5 773.5h0M1539.5 774.5h0M1539.5 775.5h0M1539.5 776.5h0M1539.5 777.5h0M1539.5 778.5h0M1539.5 779.5h0M1539.5 780.5h0M1539.5 781.5h0M1539.5 782.5h0M1539.5 783.5h0M1539.5 784.5h0M1539.5 785.5h0M1539.5 786.5h0M1539.5 787.5h0M1539.5 788.5h0M1539.5 789.5h0M1539.5 790.5h0M1539.5 791.5h0M1539.5 792.5h0M1539.5 793.5h0M1539.5 794.5h0M1539.5 795.5h0M1539.5 796.5h0M1539.5 797.5h0M1539.5 798.5h0M1539.5 799.5h0M1539.5 800.5h0M1539.5 801.5h0M1539.5 802.5h0M1539.5 803.5h0M1539.5 804.5h0M1539.5 805.5h0M1539.5 806.5h0M1539.5 807.5h0M1539.5 808.5h0M1539.5 809.5h0M1539.5 810.5h0M1539.5 811.5h0M1539.5 812.5h0M1539.5 813.5h0M1539.5 814.5h0M1539.5 815.5h0M1539.5 816.5h0M1539.5 817.5h0M1539.5 818.5h0M1539.5 819.5h0M1539.5 820.5h0M1539.5 821.5h0M1539.5 822.5h0M1539.5 823.5h0M1539.5 824.5h0M1539.5 825.5h0M1539.5 826.5h0M1539.5 827.5h0M1539.5 828.5h0M1539.5 829.5h0M1539.5 830.5h0M1539.5 831.5h0M1539.5 832.5h0M1539.5 833.5h0M1539.5 834.5h0M1539.5 835.5h0M1539.5 836.5h0M1539.5 837.5h0M1539.5 838.5h0M1539.5 839.5h0M1539.5 840.5h0M1539.5 841.5h0M1539.5 842.5h0M1539.5 843.5h0M1539.5 844.5h0M1539.5 845.5h0M1539.5 846.5h0M1539.5 847.5h0M1539.5 848.5h0M1539.5 849.5h0M1539.5 850.5h0M1539.5 851.5h0M1539.5 852.5h0M1539.5 853.5h0M1539.5 854.5h0M1539.5 855.5h0M1539.5 856.5h0M1539.5 857.5h0M1539.5 858.5h0M1539.5 859.5h0M1539.5 860.5h0M1539.5 861.5h0M1540.5 862.5h0M1540.5 863.5h0M1540.5 864.5h0M1540.5 865.5h0M1540.5 866.5h0M1540.5 867.5h0M1540.5 868.5h0M1540.5 869.5h0M1540.5 870.5h0M1540.5 871.5h0M1540.5 872.5h0M1540.5 873.5h0M1540.5 874.5h0M1540.5 875.5h0M1540.5 876.5h0M1540.5 877.5h0M1540.5 878.5h0M1540.5 879.5h0M1540.5 880.5h0M1540.5 881.5h0M1540.5 882.5h0M1540.5 883.5h0M1540.5 884.5h0M1540.5 885.5h0M1540.5 886.5h0M1540.5 887.5h0M1540.5 888.5h0M1540.5 889.5h0M1540.5 890.5h0M1540.5 891.5h0M1540.5 892.5h0M1540.5 893.5h0M1540.5 894.5h0M1540.5 895.5h0M1540.5 896.5h0M1540.5 897.5h0M1540.5 898.5h0M1540.5 899.5h0M1540.5 900.5h0M1540.5 901.5h0M1540.5 902.5h0M1540.5 903.5h0M1540.5 904.5h0M1540.5 905.5h0M1540.5 906.5h0M1540.5 907.5h0M1540.5 908.5h0M1540.5 909.5h0M1540.5 910.5h0M1540.5 911.5h0M1540.5 912.5h0M1540.5 913.5h0M1540.5 914.5h0M1540.5 915.5h0M1540.5 916.5h0M1540.5 917.5h0M1540.5 918.5h0M1540.5 919.5h0M1540.5 920.5h0M1540.5 921.5h0M1540.5 922.5h0M1540.5 923.5h0M1540.5 924.5h0M1540.5 925.5h0M1540.5 926.5h0M1540.5 927.5h0M1540.5 928.5h0M1540.5 929.5h0M1540.5 930.5h0M1540.5 931.5h0M1540.5 932.5h0M1540.5 933.5h0M1540.5 934.5h0M1540.5 935.5h0M1540.5 936.5h0M1540.5 937.5h0M1541.5 937.5h0M1541.5 938.5h0M1541.5 939.5h0M1541.5 940.5h0M1541.5 941.5h0M1541.5 942.5h0M1541.5 943.5h0M1541.5 944.5h0M1541.5 945.5h0M1541.5 946.5h0M1541.5 947.5h0M1541.5 948.5h0M1541.5 949.5h0M1541.5 950.5h0M1541.5 951.5h0M1541.5 952.5h0M1541.5 953.5h0M1541.5 954.5h0M1541.5 955.5h0M1541.5 956.5h0M1541.5 957.5h0M1541.5 958.5h0M1541.5 959.5h0M1541.5 960.5h0M1541.5 961.5h0M1541.5 962.5h0M1541.5 963.5h0M1541.5 964.5h0M1541.5 965.5h0M1541.5 966.5h0M1541.5 967.5h0M1541.5 968.5h0M1541.5 969.5h0M1541.5 970.5h0M1541.5 971.5h0M1541.5 972.5h0M1541.5 973.5h0M1541.5 974.5h0M1541.5 975.5h0M1541.5 976.5h0M1541.5 977.5h0M1541.5 978.5h0M1541.5 979.5h0M1541.5 980.5h0M1541.5 981.5h0M1541.5 982.5h0M1541.5 983.5h0M1541.5 984.5h0M1541.5 985.5h0M1541.5 986.5h0M1541.5 987.5h0M1541.5 988.5h0M1541.5 989.5h0M1541.5 990.5h0M1542.5 990.5h0M1542.5 991.5h0M1542.5 992.5h0M1542.5 993.5h0M1542.5 994.5h0M1542.5 995.5h0M1542.5 996.5h0M1542.5 997.5h0M1542.5 998.5h0M1542.5 999.5h0M1542.5 1000.5h0M1542.5 1001.5h0M1542.5 1002.5h0M1542.5 1003.5h0M1542.5 1004.5h0M1542.5 1005.5h0M1542.5 1006.5h0M1542.5 1007.5h0M1542.5 1008.5h0M1542.5 1009.5h0M1542.5 1010.5h0M1542.5 1011.5h0M1542.5 1012.5h0M1542.5 1013.5h0M1542.5 1014.5h0M1542.5 1015.5h0M1542.5 1016.5h0M1542.5 1017.5h0M1542.5 1018.5h0M1542.5 1019.5h0M1542.5 1020.5h0M1542.5 1021.5h0M1542.5 1022.5h0M1542.5 1023.5h0M1542.5 1024.5h0M1542.5 1025.5h0M1542.5 1026.5h0M1542.5 1027.5h0M1542.5 1028.5h0M1543.5 1029.5h0M1543.5 1030.5h0M1543.5 1031.5h0M1543.5 1032.5h0M1543.5 1033.5h0M1543.5 1034.5h0M1543.5 1035.5h0M1543.5 1036.5h0M1543.5 1037.5h0M1543.5 1038.5h0M1543.5 1039.5h0M1543.5 1040.5h0M1543.5 1041.5h0M1543.5 1042.5h0M1543.5 1043.5h0M1543.5 1044.5h0M1543.5 1045.5h0M1543.5 1046.5h0M1543.5 1047.5h0M1543.5 1048.5h0M1543.5 1049.5h0M1543.5 1050.5h0M1543.5 1051.5h0M1543.5 1052.5h0M1543.5 1053.5h0M1543.5 1054.5h0M1543.5 1055.5h0M1544.5 1043.5h0M1544.5 1039.5h0M1544.5 1036.5h0M1544.5 1033.5h0M1544.5 1029.5h0M1544.5 1026.5h0M1544.5 1022.5h0M1544.5 1019.5h0M1544.5 1015.5h0M1544.5 1011.5h0M1544.5 1007.5h0M1544.5 1003.5h0M1544.5 1000.5h0M1544.5 995.5h0M1544.5 991.5h0M1544.5 987.5h0M1544.5 983.5h0M1544.5 978.5h0M1544.5 974.5h0M1544.5 969.5h0M1544.5 965.5h0M1544.5 960.5h0M1544.5 955.5h0M1544.5 950.5h0M1544.5 945.5h0M1544.5 940.5h0M1544.5 935.5h0M1544.5 929.5h0M1544.5 923.5h0M1545.5 917.5h0M1545.5 910.5h0M1545.5 904.5h0M1545.5 897.5h0M1545.5 889.5h0M1545.5 882.5h0M1545.5 874.5h0M1545.5 865.5h0M1545.5 856.5h0M1545.5 847.5h0M1545.5 838.5h0M1545.5 828.5h0M1545.5 818.5h0M1546.5 808.5h0M1546.5 798.5h0M1546.5 787.5h0M1546.5 777.5h0M1546.5 767.5h0M1546.5 758.5h0M1546.5 750.5h0M1546.5 741.5h0M1546.5 733.5h0M1546.5 726.5h0M1546.5 719.5h0M1546.5 712.5h0M1546.5 705.5h0M1546.5 699.5h0M1546.5 693.5h0M1546.5 688.5h0M1546.5 685.5h0M1546.5 682.5h0M1546.5 679.5h0M1546.5 678.5h0M1546.5 676.5h0M1546.5 675.5h0M1547.5 674.5h0M1547.5 673.5h0M1547.5 671.5h0M1547.5 670.5h0M1547.5 669.5h0M1547.5 668.5h0M1547.5 667.5h0M1547.5 665.5h0M1547.5 664.5h0M1547.5 663.5h0M1547.5 662.5h0M1547.5 661.5h0M1547.5 660.5h0M1547.5 659.5h0M1547.5 657.5h0M1547.5 656.5h0M1547.5 655.5h0M1547.5 654.5h0M1547.5 653.5h0M1547.5 652.5h0M1547.5 651.5h0M1547.5 650.5h0M1547.5 649.5h0M1547.5 648.5h0M1547.5 646.5h0M1547.5 645.5h0M1547.5 644.5h0M1547.5 643.5h0M1547.5 642.5h0M1547.5 641.5h0M1547.5 640.5h0M1547.5 639.5h0M1547.5 638.5h0M1547.5 637.5h0M1547.5 636.5h0M1547.5 635.5h0M1547.5 634.5h0M1547.5 633.5h0M1547.5 632.5h0M1547.5 631.5h0M1547.5 630.5h0M1547.5 629.5h0M1547.5 628.5h0M1547.5 627.5h0M1547.5 626.5h0M1547.5 625.5h0M1547.5 624.5h0M1547.5 623.5h0M1547.5 622.5h0M1547.5 621.5h0M1547.5 620.5h0M1548.5 619.5h0M1548.5 618.5h0M1548.5 617.5h0M1548.5 616.5h0M1548.5 615.5h0M1548.5 614.5h0M1548.5 613.5h0M1548.5 612.5h0M1548.5 611.5h0M1548.5 610.5h0M1548.5 609.5h0M1548.5 608.5h0M1549.5 607.5h0M1549.5 606.5h0M1549.5 605.5h0M1550.5 604.5h0M1550.5 603.5h0M1550.5 602.5h0M1550.5 601.5h0M1551.5 601.5h0M1551.5 602.5h0M1552.5 603.5h0M1552.5 604.5h0M1552.5 605.5h0M1553.5 606.5h0M1553.5 607.5h0M1553.5 608.5h0M1553.5 609.5h0M1553.5 610.5h0M1553.5 611.5h0M1553.5 612.5h0M1554.5 613.5h0M1554.5 614.5h0M1554.5 615.5h0M1554.5 616.5h0M1554.5 617.5h0M1554.5 618.5h0M1554.5 619.5h0M1554.5 620.5h0M1555.5 621.5h0M1555.5 622.5h0M1555.5 623.5h0M1555.5 624.5h0M1555.5 625.5h0M1555.5 626.5h0M1555.5 627.5h0M1555.5 628.5h0M1555.5 629.5h0M1555.5 630.5h0M1555.5 631.5h0M1555.5 632.5h0M1555.5 633.5h0M1556.5 634.5h0M1556.5 635.5h0M1556.5 636.5h0M1556.5 637.5h0M1556.5 638.5h0M1556.5 639.5h0M1556.5 640.5h0M1556.5 641.5h0M1556.5 642.5h0M1556.5 643.5h0M1556.5 644.5h0M1556.5 645.5h0M1556.5 646.5h0M1556.5 647.5h0M1556.5 648.5h0M1556.5 649.5h0M1556.5 651.5h0M1556.5 652.5h0M1556.5 653.5h0M1557.5 654.5h0M1557.5 655.5h0M1557.5 656.5h0M1557.5 657.5h0M1557.5 658.5h0M1557.5 659.5h0M1557.5 661.5h0M1557.5 662.5h0M1557.5 663.5h0M1557.5 664.5h0M1557.5 665.5h0M1557.5 666.5h0M1557.5 667.5h0M1557.5 669.5h0M1557.5 670.5h0M1557.5 671.5h0M1557.5 672.5h0M1557.5 673.5h0" fill="none" stroke="#000" stroke-width="4.17" stroke-linecap="round"/>
<circle cx="1557.2" cy="213.2" r="2.9"/>
<path d="M1040.5 688.5 1041.5 687.5 1049.5 687.5 1050.5 686.5 1058.5 686.5 1059.5 685.5 1068.5 685.5 1069.5 684.5 1079.5 684.5 1080.5 683.5 1091.5 683.5 1092.5 682.5 1104.5 682.5 1105.5 681.5 1120.5 681.5 1121.5 680.5 1133.5 680.5 1134.5 679.5 1148.5 679.5 1149.5 678.5 1174.5 678.5 1175.5 677.5 1201.5 677.5 1202.5 676.5 1249.5 676.5 1250.5 677.5 1285.5 677.5 1286.5 678.5 1308.5 678.5 1309.5 679.5 1325.5 679.5 1326.5 680.5 1337.5 680.5 1338.5 681.5 1349.5 681.5 1350.5 682.5 1359.5 682.5 1360.5 683.5 1369.5 683.5 1370.5 684.5 1377.5 684.5 1378.5 685.5 1385.5 685.5 1386.5 686.5 1392.5 686.5 1393.5 687.5 1399.5 687.5 1400.5 688.5 1405.5 688.5 1406.5 689.5 1412.5 689.5 1413.5 690.5 1418.5 690.5 1419.5 691.5 1424.5 691.5 1425.5 692.5 1429.5 692.5 1430.5 693.5 1434.5 693.5 1435.5 694.5 1439.5 694.5 1440.5 695.5 1444.5 695.5 1445.5 696.5 1448.5 696.5 1449.5 697.5 1452.5 697.5 1453.5 698.5 1456.5 698.5 1457.5 699.5 1460.5 699.5 1461.5 700.5 1464.5 700.5 1465.5 701.5 1468.5 701.5 1469.5 702.5 1471.5 702.5 1472.5 703.5 1474.5 703.5 1475.5 704.5 1477.5 704.5 1478.5 705.5 1480.5 705.5 1481.5 706.5 1483.5 706.5 1484.5 707.5 1485.5 707.5 1486.5 708.5 1488.5 708.5 1489.5 709.5 1490.5 709.5 1491.5 710.5 1493.5 710.5 1494.5 711.5 1495.5 711.5 1496.5 712.5 1497.5 712.5 1498.5 713.5 1499.5 713.5 1500.5 714.5 1501.5 714.5 1502.5 715.5 1503.5 715.5 1504.5 716.5 1505.5 717.5 1506.5 717.5 1507.5 718.5 1508.5 719.5 1509.5 719.5 1510.5 720.5 1511.5 721.5 1512.5 721.5 1513.5 722.5 1514.5 723.5 1515.5 723.5 1516.5 724.5 1517.5 725.5 1518.5 725.5 1519.5 726.5 1520.5 727.5 1521.5 728.5 1522.5 729.5 1523.5 729.5 1524.5 730.5 1525.5 731.5 1526.5 732.5 1527.5 734.5 1528.5 735.5 1529.5 736.5 1530.5 738.5 1531.5 739.5 1532.5 741.5 1533.5 743.5 1534.5 745.5 1535.5 747.5 1536.5 749.5 1537.5 751.5 1538.5 749 1538.5 769 1539.5 771" fill="none" stroke="#000" stroke-width="4.6" stroke-linejoin="round" stroke-linecap="round"/>
<path d="M1539.5 771 1539.5 861.5 1540.5 863.5 1540.5 936.5 1541.5 938.5 1541.5 989.5 1542.5 991.5 1542.5 1027.5 1543.5 1029.5 1543.5 1055.5" fill="none" stroke="#000" stroke-width="4.35" stroke-linejoin="round" stroke-linecap="round"/>
<path d="M292.5 860.5 292.5 860.5 292.5 871.5 293.5 873.5 293.5 908 294.5 910 294.5 943 295.5 945 295.5 975 296.5 977 296.5 1001 297.5 1003 297.5 1020.5 298.5 1022.5 298.5 1034.5 299.5 1036.5 299.5 1041.5 300.5 1046" fill="none" stroke="#000" stroke-width="4.35" stroke-linejoin="round" stroke-linecap="round"/>
<path d="M1546.75 140V674" stroke="#000" stroke-width="2.08" fill="none"/>
<rect x="1545.915" y="140" width="4.17" height="932" fill="#00f"/><rect x="1550.915" y="140" width="4.17" height="932" fill="#00f"/>
<rect x="220" y="615.915" width="1405" height="4.17" fill="#008000"/>
<rect x="220" y="340.96" width="1405" height="2.08" fill="#ffa500"/><rect x="220" y="505.96" width="1405" height="2.08" fill="#ffa500"/>
<path d="M1548.3 618.5L1548.7 612L1549.3 606L1550 602L1550.7 600.5L1551.4 602L1552.2 606L1553 612L1553.5 618.5" fill="none" stroke="#ff0" stroke-width="15.28" stroke-linecap="round" stroke-linejoin="round"/>
</g>
<!-- axes: ticks and frame -->
<g id="axes">
<path d="M248 1068.5v16.87M302 1068.5v11.31M356 1068.5v11.31M410 1068.5v11.31M464 1068.5v11.31M518 1068.5v16.87M572 1068.5v11.31M626 1068.5v11.31M680 1068.5v11.31M734 1068.5v11.31M788 1068.5v16.87M842 1068.5v11.31M896 1068.5v11.31M950 1068.5v11.31M1004 1068.5v11.31M1058 1068.5v16.87M1112 1068.5v11.31M1166 1068.5v11.31M1220 1068.5v11.31M1274 1068.5v11.31M1328 1068.5v16.87M1382 1068.5v11.31M1435 1068.5v11.31M1489 1068.5v11.31M1543 1068.5v11.31M1597 1068.5v16.87M225.5 145h-16.87M225.5 173h-11.31M225.5 200h-11.31M225.5 227h-11.31M225.5 255h-11.31M225.5 282h-16.87M225.5 310h-11.31M225.5 337h-11.31M225.5 364h-11.31M225.5 392h-11.31M225.5 419h-16.87M225.5 446h-11.31M225.5 474h-11.31M225.5 501h-11.31M225.5 529h-11.31M225.5 556h-16.87M225.5 583h-11.31M225.5 611h-11.31M225.5 638h-11.31M225.5 666h-11.31M225.5 693h-16.87M225.5 720h-11.31M225.5 748h-11.31M225.5 775h-11.31M225.5 803h-11.31M225.5 830h-16.87M225.5 857h-11.31M225.5 885h-11.31M225.5 912h-11.31M225.5 940h-11.31M225.5 967h-16.87M225.5 994h-11.31M225.5 1022h-11.31M225.5 1049h-11.31" stroke="#000" stroke-width="5.56" fill="none"/>
<rect x="225.5" y="144.5" width="1395" height="924" fill="none" stroke="#000" stroke-width="1.11"/>
</g>
<!-- legend -->
<g id="legend">
<rect x="235.5" y="154.5" width="446" height="183" rx="4.2" ry="4.2" fill="#fff" fill-opacity="0.8" stroke="#ccc" stroke-opacity="0.8" stroke-width="1.39"/>
<rect x="242.96" y="169.96" width="43.08" height="2.08"/><circle cx="265.5" cy="171.5" r="2.08"/>
<rect x="241.92" y="200.915" width="45.16" height="4.17" fill="#00f"/>
<rect x="241.92" y="230.915" width="45.16" height="4.17" fill="#008000"/>
<rect x="242.96" y="262.96" width="43.08" height="2.08" fill="#ffa500"/>
<circle cx="265.5" cy="308.5" r="6.94" fill="#ff0" fill-opacity="0.2" stroke="#ff0" stroke-opacity="0.2" stroke-width="1.39"/>
</g>
<!-- all labels (group opacity forces greyscale text antialiasing) -->
<g id="labels" opacity="0.999">
<text y="981" font-size="37.56"><tspan x="134.96" textLength="67.16" lengthAdjust="spacingAndGlyphs">100</tspan></text>
<text y="844" font-size="37.56"><tspan x="135.53" textLength="66.74" lengthAdjust="spacingAndGlyphs">200</tspan></text>
<text y="707" font-size="37.56"><tspan x="136.2" textLength="65.98" lengthAdjust="spacingAndGlyphs">300</tspan></text>
<text y="570" font-size="37.56"><tspan x="135.71" textLength="66.55" lengthAdjust="spacingAndGlyphs">400</tspan></text>
<text y="433" font-size="37.56"><tspan x="136.05" textLength="66.25" lengthAdjust="spacingAndGlyphs">500</tspan></text>
<text y="296" font-size="37.56"><tspan x="135.49" textLength="66.69" lengthAdjust="spacingAndGlyphs">600</tspan></text>
<text y="159" font-size="37.56"><tspan x="134.83" textLength="67.38" lengthAdjust="spacingAndGlyphs">700</tspan></text>
<text y="1117" font-size="37.56"><tspan x="208.86" textLength="77.72" lengthAdjust="spacingAndGlyphs">0.04</tspan></text>
<text y="1117" font-size="37.56"><tspan x="478.77" textLength="77.31" lengthAdjust="spacingAndGlyphs">0.05</tspan></text>
<text y="1117" font-size="37.56"><tspan x="748.92" textLength="78.06" lengthAdjust="spacingAndGlyphs">0.06</tspan></text>
<text y="1117" font-size="37.56"><tspan x="1018.76" textLength="77.53" lengthAdjust="spacingAndGlyphs">0.07</tspan></text>
<text y="1117" font-size="37.56"><tspan x="1288.69" textLength="78.25" lengthAdjust="spacingAndGlyphs">0.08</tspan></text>
<text y="1117" font-size="37.56"><tspan x="1558.81" textLength="77.98" lengthAdjust="spacingAndGlyphs">0.09</tspan></text>
<text y="1160" font-size="43.75"><tspan x="820.25" textLength="80.06" lengthAdjust="spacingAndGlyphs">Age</tspan> <tspan x="914.46" textLength="109" lengthAdjust="spacingAndGlyphs">(Myr)</tspan></text>
<text transform="translate(119.4 780.66) rotate(-90)" font-size="43.75"><tspan x="0" textLength="57.27" lengthAdjust="spacingAndGlyphs">O1</tspan> <tspan x="72.85" textLength="131.11" lengthAdjust="spacingAndGlyphs">period</tspan> <tspan x="218.64" textLength="129.53" lengthAdjust="spacingAndGlyphs">(days)</tspan></text>
<text y="179" font-size="21.67"><tspan x="303.42" textLength="158.78" lengthAdjust="spacingAndGlyphs">m1.00_z0.0800</tspan></text>
<text y="210" font-size="21.67"><tspan x="302.43" textLength="50.39" lengthAdjust="spacingAndGlyphs">peak</tspan> <tspan x="359.61" textLength="88.34" lengthAdjust="spacingAndGlyphs">detector</tspan> <tspan x="454.41" textLength="103.21" lengthAdjust="spacingAndGlyphs">horizontal</tspan> <tspan x="565.11" textLength="75.67" lengthAdjust="spacingAndGlyphs">bounds</tspan></text>
<text y="241" font-size="21.67"><tspan x="302.37" textLength="45.42" lengthAdjust="spacingAndGlyphs">min.</tspan> <tspan x="354.08" textLength="13.91" lengthAdjust="spacingAndGlyphs">P</tspan> <tspan x="373.67" textLength="107.1" lengthAdjust="spacingAndGlyphs">consistent</tspan> <tspan x="488.43" textLength="43.29" lengthAdjust="spacingAndGlyphs">with</tspan> <tspan x="538.44" textLength="134.17" lengthAdjust="spacingAndGlyphs">observations</tspan></text>
<text y="271" font-size="21.67"><tspan x="302.35" textLength="51.7" lengthAdjust="spacingAndGlyphs">max.</tspan> <tspan x="360.15" textLength="13.91" lengthAdjust="spacingAndGlyphs">P</tspan> <tspan x="379.92" textLength="52.15" lengthAdjust="spacingAndGlyphs">must</tspan> <tspan x="438.99" textLength="31.43" lengthAdjust="spacingAndGlyphs">fall</tspan> <tspan x="478.14" textLength="62.2" lengthAdjust="spacingAndGlyphs">within</tspan> <tspan x="547.25" textLength="37.8" lengthAdjust="spacingAndGlyphs">this</tspan> <tspan x="592.07" textLength="49.54" lengthAdjust="spacingAndGlyphs">span</tspan></text>
<text y="301" font-size="21.67"><tspan x="302.49" textLength="123.15" lengthAdjust="spacingAndGlyphs">intersection</tspan> <tspan x="433.21" textLength="23.23" lengthAdjust="spacingAndGlyphs">w/</tspan> <tspan x="463.24" textLength="71.83" lengthAdjust="spacingAndGlyphs">P,L,T,R</tspan></text>
<text y="325" font-size="21.67"><tspan x="302.58" textLength="72.11" lengthAdjust="spacingAndGlyphs">loosely</tspan> <tspan x="382.07" textLength="78.38" lengthAdjust="spacingAndGlyphs">defined</tspan></text>
<text transform="translate(315.4 714.9) rotate(-45)" font-size="17.33"><tspan x="0" textLength="33.33" lengthAdjust="spacingAndGlyphs">n=1</tspan></text>
<text y="1139" font-size="14.44"><tspan x="1534.94" textLength="84.21" lengthAdjust="spacingAndGlyphs">+1.99005e4</tspan></text>
</g>
</svg></body></html>
